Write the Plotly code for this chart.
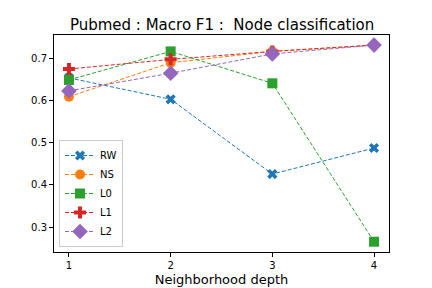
import plotly.graph_objects as go

depth = [1, 2, 3, 4]
rw = [0.655, 0.604, 0.426, 0.488]
ns = [0.610, 0.691, 0.718, 0.733]
l0 = [0.650, 0.718, 0.642, 0.265]
l1 = [0.676, 0.699, 0.718, 0.733]
l2 = [0.624, 0.666, 0.712, 0.733]

series = [
    ("RW", rw, "#1f77b4", "x"),
    ("NS", ns, "#ff7f0e", "circle"),
    ("L0", l0, "#2ca02c", "square"),
    ("L1", l1, "#d62728", "cross"),
    ("L2", l2, "#9467bd", "diamond"),
]
sizes = {"RW": 9, "NS": 10, "L0": 10, "L1": 10, "L2": 12}

fig = go.Figure()
for name, vals, color, sym in series:
    fig.add_trace(go.Scatter(
        x=depth, y=vals, name=name, mode="lines+markers",
        line=dict(color=color, width=1, dash="4px,2px"),
        marker=dict(symbol=sym, size=sizes[name], color=color, line=dict(width=0)),
    ))

# page has an 8px body margin, so the figure is 8px smaller and offset
fig.update_layout(
    width=424, height=280,
    margin=dict(l=46, r=43, t=27, b=36, autoexpand=False),
    paper_bgcolor="white", plot_bgcolor="white",
    font=dict(family="DejaVu Sans", color="#222"),
    title=dict(text="Pubmed : Macro F1 :  Node classification", x=0.505, xanchor="center",
               yref="paper", y=1.0, yanchor="bottom", pad=dict(b=5),
               font=dict(size=15, color="black"), automargin=False),
    showlegend=True,
    legend=dict(x=0.015, y=0.023, xanchor="left", yanchor="bottom",
                bgcolor="rgba(255,255,255,0.8)", bordercolor="#ccc", borderwidth=1,
                font=dict(size=10, color="black"), tracegroupgap=0, itemwidth=30),
)
fig.update_xaxes(range=[0.853, 4.147], tickvals=depth, ticktext=["1", "2", "3", "4"],
                 automargin=False,
                 showgrid=False, zeroline=False, showline=True, linecolor="black", linewidth=1,
                 mirror=True, ticks="outside", ticklen=4, tickcolor="black",
                 tickfont=dict(size=10, color="black"),
                 title=dict(text="Neighborhood depth", font=dict(size=13, color="black"), standoff=4))
fig.update_yaxes(range=[0.2405, 0.757], tickvals=[0.3, 0.4, 0.5, 0.6, 0.7],
                 ticktext=["0.3", "0.4", "0.5", "0.6", "0.7"],
                 automargin=False,
                 showgrid=False, zeroline=False, showline=True, linecolor="black", linewidth=1,
                 mirror=True, ticks="outside", ticklen=4, tickcolor="black",
                 tickfont=dict(size=10, color="black"))

fig.write_html("out.html")
